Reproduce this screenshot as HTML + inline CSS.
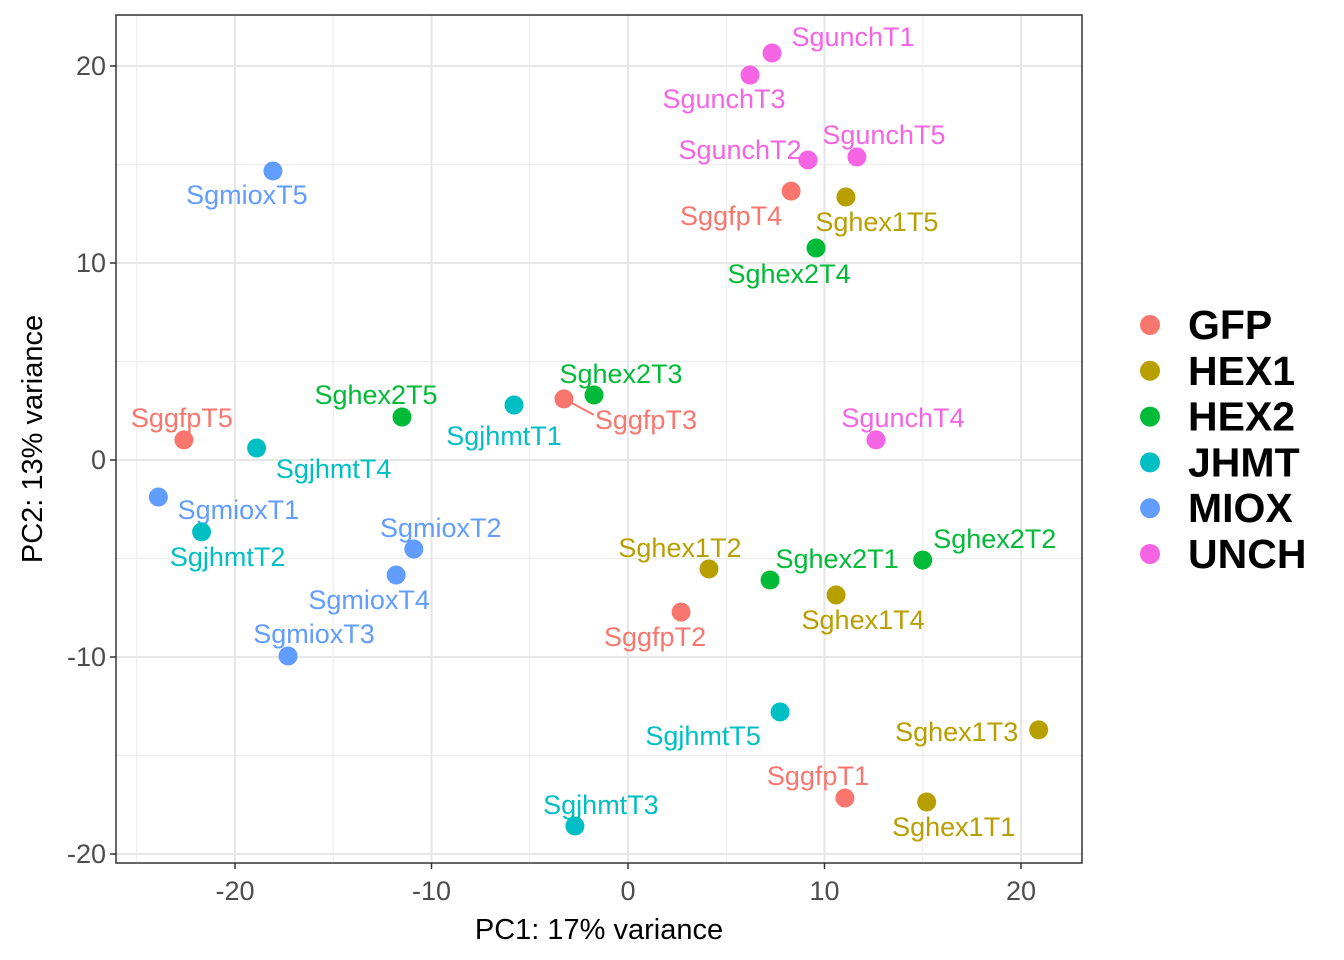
<!DOCTYPE html>
<html><head><meta charset="utf-8"><style>
body{margin:0;background:#fff;}
svg{display:block;font-family:"Liberation Sans",Arial,sans-serif;}
</style></head><body>
<svg id="chart" width="1344" height="960"></svg>
<script>
const groups=["GFP","HEX1","HEX2","JHMT","MIOX","UNCH"];
const colors=["#F8766D","#B79F00","#00BA38","#00BFC4","#619CFF","#F564E3"];
const names=["SgunchT1","SgunchT3","SgunchT2","SgunchT5","SgunchT4","SggfpT4","Sghex1T5","Sghex2T4","SgmioxT5","Sghex2T3","SggfpT3","SgjhmtT1","Sghex2T5","SggfpT5","SgjhmtT4","SgmioxT1","SgjhmtT2","SgmioxT2","SgmioxT4","SgmioxT3","Sghex1T2","Sghex2T1","Sghex2T2","Sghex1T4","SggfpT2","SgjhmtT5","Sghex1T3","SggfpT1","Sghex1T1","SgjhmtT3"];
const sampleGroup=[5,5,5,5,5,0,1,2,4,2,0,3,2,0,3,4,3,4,4,4,1,2,2,1,0,3,1,0,1,3];
const pc1=[7.33,6.21,9.16,11.65,12.62,8.30,11.09,9.57,-18.07,-1.73,-3.26,-5.80,-11.5,-22.6,-18.9,-23.9,-21.7,-10.9,-11.8,-17.3,4.12,7.23,15.0,10.59,2.70,7.74,20.9,11.04,15.2,-2.70];
const pc2=[20.66,19.54,15.23,15.38,1.02,13.65,13.35,10.76,14.67,3.30,3.10,2.79,2.18,1.02,0.61,-1.88,-3.65,-4.52,-5.84,-9.95,-5.53,-6.09,-5.08,-6.85,-7.72,-12.79,-13.7,-17.16,-17.36,-18.58];
const xTicks=[-20,-10,0,10,20];
const yTicks=[-20,-10,0,10,20];
const ldx=[81,-26,-68,27,27,-60,31,-27,-26,27,82,-10,-26,-2,77,80,26,27,-27,26,-29,67,72,27,-26,-77,-82,-27,27,26];
const ldy=[-16,24,-10,-22,-22,25,25,26,24,-21,21,31,-22,-22,21,13,25,-21,25,-22,-21,-21,-21,25,25,24,2,-22,25,-21];

const NS="http://www.w3.org/2000/svg";
const svg=document.getElementById('chart');
const L=116,R=1082,T=15,B=863;
const sx=v=>628+v*19.65;
const sy=v=>460-v*19.7;
function mk(tag,attrs,parent){const e=document.createElementNS(NS,tag);for(const k in attrs)e.setAttribute(k,attrs[k]);(parent||svg).appendChild(e);return e;}

const panel=mk('rect',{x:L,y:T,width:R-L,height:B-T,fill:'#fff'});


for(let v=-25;v<=25;v+=10){const x=sx(v);if(x>L&&x<R){const g=mk('line',{x1:x,x2:x,y1:T,y2:B,stroke:'#ebebeb','stroke-width':1});}}
for(let v=-25;v<=25;v+=10){const y=sy(v);if(y>T&&y<B){const g=mk('line',{x1:L,x2:R,y1:y,y2:y,stroke:'#ebebeb','stroke-width':1});}}
xTicks.forEach(v=>{const x=sx(v);
const g=mk('line',{x1:x,x2:x,y1:T,y2:B,stroke:'#e6e6e6','stroke-width':2});
const t=mk('line',{x1:x,x2:x,y1:B,y2:B+6,stroke:'#333','stroke-width':1.5});
const l=mk('text',{x:x,y:B+37,'text-anchor':'middle','font-size':27,fill:'#4d4d4d'});l.textContent=v;});
yTicks.forEach(v=>{const y=sy(v);
const g=mk('line',{x1:L,x2:R,y1:y,y2:y,stroke:'#e6e6e6','stroke-width':2});
const t=mk('line',{x1:L-6,x2:L,y1:y,y2:y,stroke:'#333','stroke-width':1.5});
const l=mk('text',{x:L-10,y:y+9,'text-anchor':'end','font-size':27,fill:'#4d4d4d'});l.textContent=v;});
const bd=mk('rect',{x:L,y:T,width:R-L,height:B-T,fill:'none',stroke:'#333','stroke-width':1.5});



names.forEach((n,i)=>{const x=sx(pc1[i]),y=sy(pc2[i]),c=colors[sampleGroup[i]];
if(n==="SggfpT3"){const ln=mk('line',{x1:x,y1:y,x2:x+30,y2:y+16,stroke:c,'stroke-width':2});}
const p=mk('circle',{cx:x,cy:y,r:9.5,fill:c});


const t=mk('text',{x:x+ldx[i],y:y+ldy[i]+9,'text-anchor':'middle','font-size':27,fill:c});t.textContent=n;

});

const xt=mk('text',{x:599,y:939,'text-anchor':'middle','font-size':29,fill:'#000'});xt.textContent='PC1: 17% variance';


const yt=mk('text',{x:0,y:0,'text-anchor':'middle','font-size':29,fill:'#000',transform:'translate(42,439) rotate(-90)'});yt.textContent='PC2: 13% variance';



groups.forEach((g,i)=>{const y=325+i*45.8;
const d=mk('circle',{cx:1150,cy:y,r:10,fill:colors[i]});
const t=mk('text',{x:1188,y:y+14,'font-size':41,'font-weight':'bold',fill:'#000'});t.textContent=g;});
</script>
</body></html>
